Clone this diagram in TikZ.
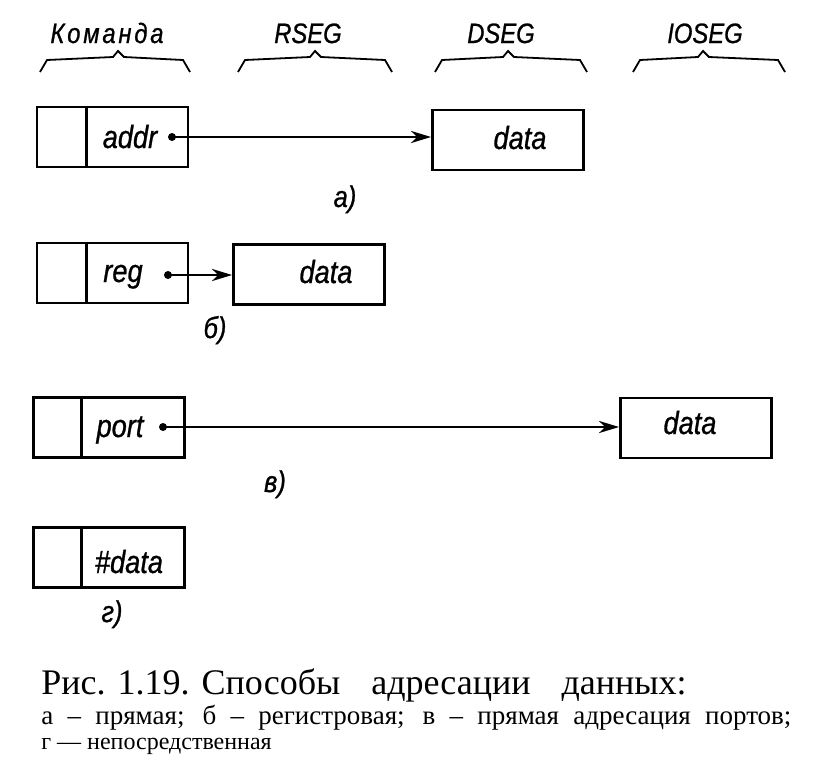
\documentclass[tikz,border=0pt]{standalone}
\usepackage{fontspec}
\setmainfont{Liberation Serif}
\newfontfamily\drw{Liberation Sans}[FakeStretch=0.85,FakeBold=0.8]
\usetikzlibrary{arrows.meta}

\tikzset{
  cell/.style={draw,minimum width=151pt,minimum height=60pt,inner sep=0pt},
  word/.style={font=\fontsize{32}{32}\drw\itshape,anchor=base,inner sep=0pt},
  seg/.style={font=\fontsize{28}{28}\drw\itshape,anchor=base,inner sep=0pt},
  sub/.style={font=\fontsize{30}{30}\drw\itshape,anchor=base,inner sep=0pt},
  figtext/.style={anchor=base west,inner sep=0pt},
  link/.style={->,line width=2.8pt},
}

\begin{document}
\begin{tikzpicture}[x=1pt,y=-1pt,>={Stealth[length=20pt,width=12pt,inset=6pt]},line width=2.8pt]
\useasboundingbox (0,0) rectangle (817,769);
% segment heads
\node[seg] (hcmd) at (107,43) {\addfontfeature{LetterSpace=10}Команда};
\node[seg] (hrseg) at (308,43) {RSEG};
\node[seg] (hdseg) at (501,43) {DSEG};
\node[seg] (hioseg) at (705,43) {IOSEG};
\foreach \l/\p/\r in {40/118/190,238/315/392,435/508/587,633/703/785}
  \draw[line width=1.8pt] (\l,72)--(\l+7,60)--(\p-5,57)--(\p,51)--(\p+6,57)--(\r-7,60)--(\r,72);
% a) direct
\node[cell] (cmdA) at (112.5,137) {};
\draw ([xshift=51pt]cmdA.north west) -- ([xshift=51pt]cmdA.south west);
\node[word] (addr) at (130,148) {addr};
\coordinate (pA) at (172,137);
\fill (pA) circle (4pt);
\node[cell] (datA) at (508,140) {};
\node[word] (dA) at (520,149) {data};
\draw[link] (pA) -- (pA -| datA.west);
\node[sub] (capA) at (345,207) {а)};
% b) register
\node[cell] (cmdB) at (112.5,273) {};
\draw ([xshift=51pt]cmdB.north west) -- ([xshift=51pt]cmdB.south west);
\node[word] (reg) at (123,282) {reg};
\coordinate (pB) at (168,275);
\fill (pB) circle (4pt);
\node[cell] (datB) at (309,274.5) {};
\node[word] (dB) at (326,283) {data};
\draw[link] (pB) -- (pB -| datB.west);
\node[sub] (capB) at (215,338) {б)};
% c) port
\node[cell] (cmdC) at (109,427.5) {};
\draw ([xshift=49pt]cmdC.north west) -- ([xshift=49pt]cmdC.south west);
\node[word] (port) at (120,437) {port};
\coordinate (pC) at (163,427);
\fill (pC) circle (4pt);
\node[cell] (datC) at (696,428) {};
\node[word] (dC) at (690,434) {data};
\draw[link] (pC) -- (pC -| datC.west);
\node[sub] (capC) at (275,492) {в)};
% d) immediate
\node[cell] (cmdD) at (109,557.5) {};
\draw ([xshift=49pt]cmdD.north west) -- ([xshift=49pt]cmdD.south west);
\node[word] (imm) at (129,573) {\#data};
\node[sub] (capD) at (112,622) {г)};
% caption
\node[figtext,font=\fontsize{36}{36}\selectfont] (fig) at (40,694)
  {Рис. 1.19. Способы\hspace{22pt} адресации\hspace{22pt} данных:};
\node[figtext,font=\fontsize{27}{27}\selectfont] (figa) at (40,724)
  {\makebox[750pt][s]{а – прямая; б – регистровая; в – прямая адресация портов;}};
\node[figtext,font=\fontsize{24}{24}\selectfont] (figb) at (40,749) {г — непосредственная};
\end{tikzpicture}
\end{document}
